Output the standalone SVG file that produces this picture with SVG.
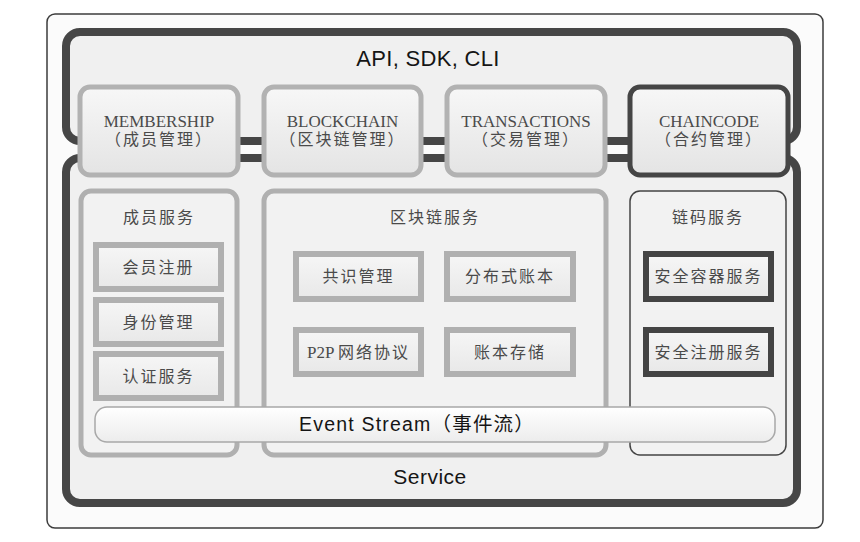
<svg xmlns="http://www.w3.org/2000/svg" width="860" height="542" viewBox="0 0 860 542">
<defs>
<linearGradient id="gNode" x1="0" y1="0" x2="0" y2="1">
<stop offset="0" stop-color="#f7f7f7"/>
<stop offset="1" stop-color="#e4e4e4"/>
</linearGradient>
<linearGradient id="gBox" x1="0" y1="0" x2="0" y2="1">
<stop offset="0" stop-color="#f6f6f6"/>
<stop offset="1" stop-color="#e8e8e8"/>
</linearGradient>
<linearGradient id="gBar" x1="0" y1="0" x2="0" y2="1">
<stop offset="0" stop-color="#ffffff"/>
<stop offset="1" stop-color="#ececec"/>
</linearGradient>
</defs>
<style>
.frame{fill:#fbfbfb;stroke:#3c3c3c;stroke-width:1.5}
.layer{fill:#f0f0f0;stroke:#464646;stroke-width:8}
.top{fill:url(#gNode);stroke:#b2b2b2;stroke-width:5}
.topd{fill:url(#gNode);stroke:#454545;stroke-width:5}
.panel{fill:#f2f2f2;stroke:#b0b0b0;stroke-width:5}
.paneld{fill:#f2f2f2;stroke:#444;stroke-width:1.5}
.box{fill:url(#gBox);stroke:#b0b0b0;stroke-width:6}
.boxd{fill:url(#gBox);stroke:#444;stroke-width:6}
.bar{fill:url(#gBar);stroke:#a8a8a8;stroke-width:1.5}
.serif{font-family:"Liberation Serif","Noto Sans CJK SC",serif;fill:#4a4a4a;text-anchor:middle}
.en{font-size:17px}
.cn{font-size:16px;letter-spacing:2px}
.sans{font-family:"Liberation Sans","Noto Sans CJK SC",sans-serif;fill:#151515;text-anchor:middle}
</style>
<rect class="frame" x="47" y="14" width="776" height="514" rx="8"/>
<g id="connectors"></g>
<g id="api-layer">
<rect class="layer" x="66" y="32" width="731" height="109" rx="14"/>
<text class="sans" x="428" y="66" font-size="22" letter-spacing="0.3">API, SDK, CLI</text>
</g>
<g id="service-layer">
<rect class="layer" x="66" y="158" width="731" height="345" rx="14"/>
<text class="sans" x="430" y="484" font-size="21" letter-spacing="0.5">Service</text>
</g>
<g id="membership">
<rect class="top" x="80" y="87" width="158" height="88" rx="10"/>
<text class="serif en" x="159" y="127">MEMBERSHIP</text>
<text class="serif cn" x="159" y="145">（成员管理）</text>
</g>
<g id="blockchain">
<rect class="top" x="264" y="87" width="157" height="88" rx="10"/>
<text class="serif en" x="342.5" y="127">BLOCKCHAIN</text>
<text class="serif cn" x="342.5" y="145">（区块链管理）</text>
</g>
<g id="transactions">
<rect class="top" x="447" y="87" width="158" height="88" rx="10"/>
<text class="serif en" x="526" y="127">TRANSACTIONS</text>
<text class="serif cn" x="526" y="145">（交易管理）</text>
</g>
<g id="chaincode">
<rect class="topd" x="630" y="87" width="158" height="88" rx="10"/>
<text class="serif en" x="709" y="127">CHAINCODE</text>
<text class="serif cn" x="709" y="145">（合约管理）</text>
</g>
<g id="member-services">
<rect class="panel" x="81" y="191" width="156" height="264" rx="10"/>
<text class="serif cn" x="159" y="223">成员服务</text>
</g>
<g id="blockchain-services">
<rect class="panel" x="264" y="191" width="342" height="264" rx="10"/>
<text class="serif cn" x="435" y="223">区块链服务</text>
</g>
<g id="chaincode-services">
<rect class="paneld" x="630" y="191" width="156" height="264" rx="10"/>
<text class="serif cn" x="708" y="223">链码服务</text>
</g>
<g id="registration">
<rect class="box" x="96" y="245" width="125" height="44"/>
<text class="serif cn" x="158.5" y="273">会员注册</text>
</g>
<g id="identity">
<rect class="box" x="96" y="300" width="125" height="44"/>
<text class="serif cn" x="158.5" y="328">身份管理</text>
</g>
<g id="auth">
<rect class="box" x="96" y="354" width="125" height="44"/>
<text class="serif cn" x="158.5" y="382">认证服务</text>
</g>
<g id="consensus">
<rect class="box" x="296" y="254" width="125" height="45"/>
<text class="serif cn" x="358.5" y="282">共识管理</text>
</g>
<g id="ledger">
<rect class="box" x="447" y="254" width="126" height="45"/>
<text class="serif cn" x="510" y="282">分布式账本</text>
</g>
<g id="p2p">
<rect class="box" x="296" y="330" width="125" height="44"/>
<text class="serif cn" x="358.5" y="358"><tspan font-size="17" letter-spacing="0">P2P </tspan>网络协议</text>
</g>
<g id="storage">
<rect class="box" x="447" y="330" width="126" height="44"/>
<text class="serif cn" x="510" y="358">账本存储</text>
</g>
<g id="container">
<rect class="boxd" x="646" y="254" width="125" height="45"/>
<text class="serif cn" x="708.5" y="282">安全容器服务</text>
</g>
<g id="secure-registry">
<rect class="boxd" x="646" y="330" width="125" height="44"/>
<text class="serif cn" x="708.5" y="358">安全注册服务</text>
</g>
<g id="event-stream">
<rect class="bar" x="95" y="407" width="680" height="35" rx="12"/>
<text class="sans" x="417" y="431" font-size="19.5" letter-spacing="1.2">Event Stream（事件流）</text>
</g>
</svg>
